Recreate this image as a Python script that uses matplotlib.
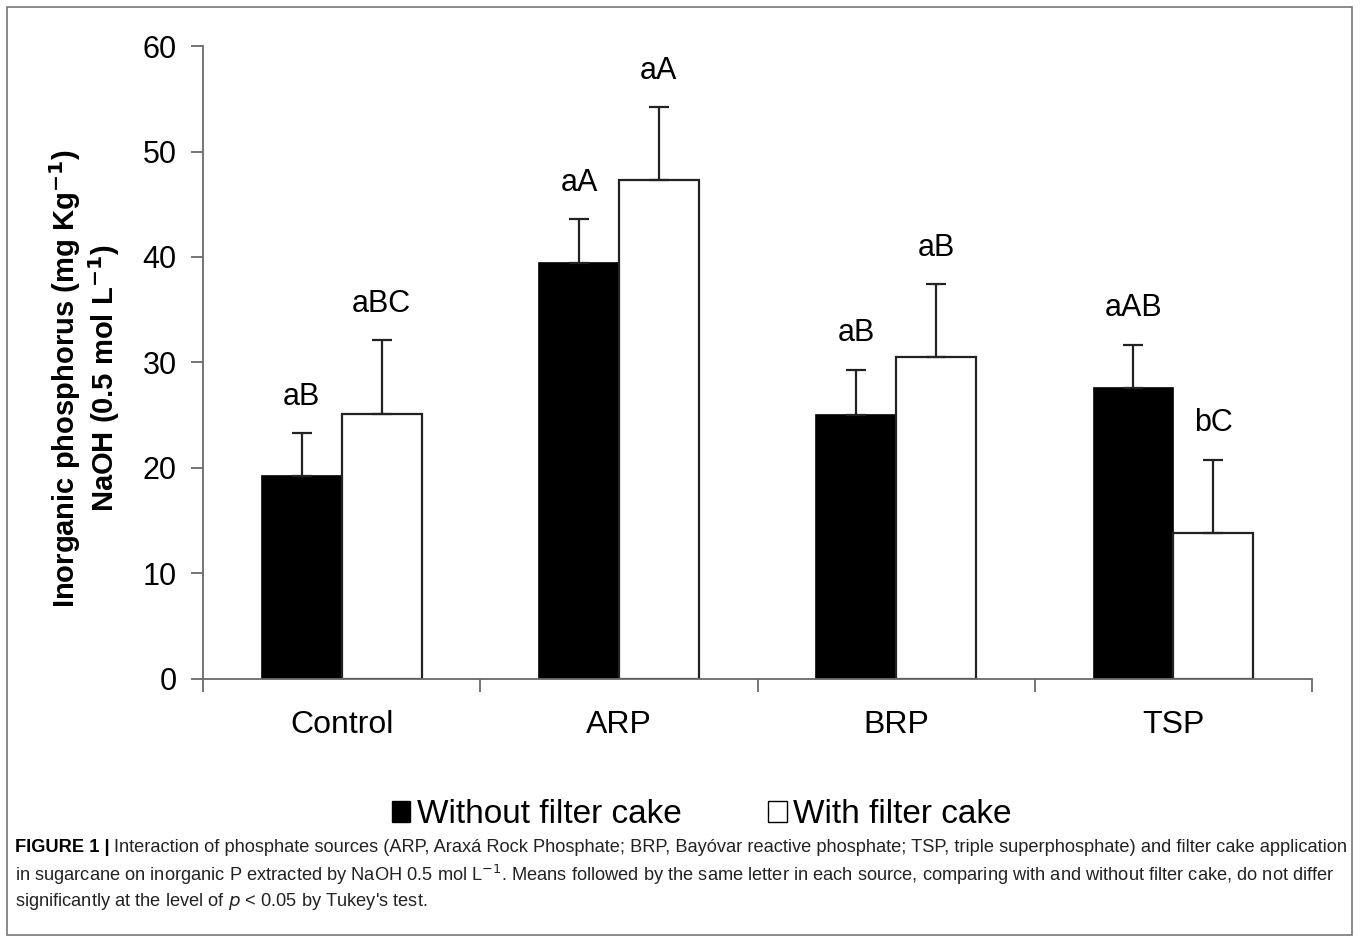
import numpy as np
import matplotlib
matplotlib.use("Agg")
import matplotlib.pyplot as plt
from matplotlib.patches import Patch, Rectangle

plt.rcParams['font.family'] = ['Liberation Sans', 'DejaVu Sans']

sources = ["Control", "ARP", "BRP", "TSP"]
without_cake = [19.2, 39.4, 25.0, 27.6]
without_err = [4.1, 4.2, 4.3, 4.1]
with_cake = [25.1, 47.3, 30.5, 13.8]
with_err = [7.0, 6.9, 6.9, 7.0]
without_letters = ["aB", "aA", "aB", "aAB"]
with_letters = ["aBC", "aA", "aB", "bC"]

fig = plt.figure(figsize=(13.6, 9.43), dpi=100)
ax = fig.add_axes([0.1493, 0.2800, 0.8154, 0.6712])

x = np.arange(len(sources)) + 0.5
w = 0.288
axis_col = "#6a6a6a"

ax.bar(x - w / 2, without_cake, w, color="black", edgecolor="black", linewidth=1.2, zorder=2)
ax.bar(x + w / 2, with_cake, w, color="white", edgecolor="#222222", linewidth=1.6, zorder=2)

ax.errorbar(x - w / 2, without_cake, yerr=[np.zeros(4), without_err], fmt="none",
            ecolor="#222222", elinewidth=1.6, capsize=7, capthick=1.6, zorder=3)
ax.errorbar(x + w / 2, with_cake, yerr=[np.zeros(4), with_err], fmt="none",
            ecolor="#222222", elinewidth=1.6, capsize=7, capthick=1.6, zorder=3)

for xi, v, e, lab in zip(x - w / 2, without_cake, without_err, without_letters):
    ax.text(xi, v + e + 2.7, lab, ha="center", va="baseline", fontsize=22)
for xi, v, e, lab in zip(x + w / 2, with_cake, with_err, with_letters):
    ax.text(xi, v + e + 2.7, lab, ha="center", va="baseline", fontsize=22)

ax.set_xlim(0, 4)
ax.set_ylim(0, 60)
ax.set_yticks(range(0, 61, 10))
ax.set_xticks([0, 1, 2, 3, 4])
ax.set_xticklabels([])
ax.set_xticks(x, minor=True)
ax.set_xticklabels(sources, minor=True, fontsize=23)
ax.tick_params(axis="x", which="minor", length=0, pad=22)
ax.tick_params(axis="x", which="major", length=9, width=1.3, color=axis_col, direction="out")
ax.tick_params(axis="y", length=9, width=1.3, color=axis_col, labelsize=22, pad=10)

for s in ["top", "right"]:
    ax.spines[s].set_visible(False)
for s in ["left", "bottom"]:
    ax.spines[s].set_color(axis_col)
    ax.spines[s].set_linewidth(1.3)

ax.set_ylabel("Inorganic phosphorus (mg Kg$\\mathbf{^{-1}}$)\nNaOH (0.5 mol L$\\mathbf{^{-1}}$)",
              fontsize=21, fontweight="bold", linespacing=1.1)
ax.yaxis.set_label_coords(-0.073, 0.475)

handles = [Patch(facecolor="black", edgecolor="black"),
           Patch(facecolor="white", edgecolor="black")]
fig.legend(handles, ["Without filter cake", "With filter cake"], loc="center",
           bbox_to_anchor=(0.516, 0.136), ncol=2, frameon=False, fontsize=24,
           handlelength=0.55, handleheight=0.55, handletextpad=0.2, columnspacing=2.6)

# caption
cap_font = ['Liberation Sans', 'DejaVu Sans']
cap_size = 13.15
fig.canvas.draw()
t0 = fig.text(0.011, 1 - 848 / 943, "FIGURE 1 |", fontsize=cap_size, fontweight="bold",
              family=cap_font, va="center")
bb = t0.get_window_extent(renderer=fig.canvas.get_renderer())
x1 = bb.x1 / fig.bbox.width + 0.003
fig.text(x1, 1 - 848 / 943,
         "Interaction of phosphate sources (ARP, Araxá Rock Phosphate; BRP, Bayóvar reactive phosphate; "
         "TSP, triple superphosphate) and filter cake application",
         fontsize=cap_size, family=cap_font, va="center", color="#222222")
fig.text(0.011, 1 - 875 / 943,
         "in sugarcane on inorganic P extracted by NaOH 0.5 mol L$^{-1}$. Means followed by the same letter in "
         "each source, comparing with and without filter cake, do not differ",
         fontsize=cap_size, family=cap_font, va="center", color="#222222")
fig.text(0.011, 1 - 902 / 943,
         "significantly at the level of $p$ < 0.05 by Tukey's test.",
         fontsize=cap_size, family=cap_font, va="center", color="#222222")

fig.patches.append(Rectangle((7 / 1360, 8 / 943), 1345 / 1360, 928 / 943, transform=fig.transFigure,
                             fill=False, edgecolor="#777777", linewidth=1.2))

fig.savefig("out.png", dpi=100)
